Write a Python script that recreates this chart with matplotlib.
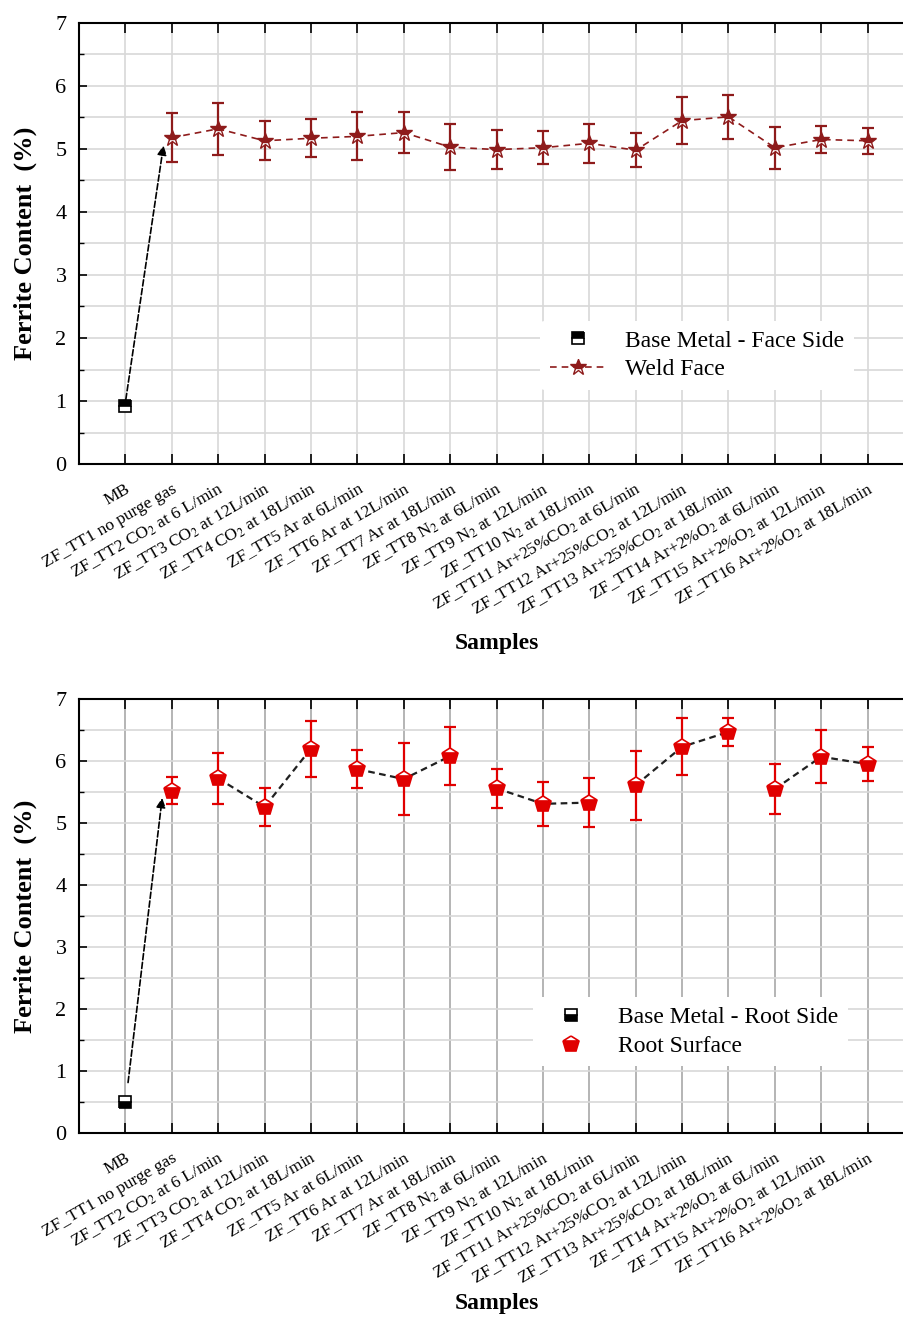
import numpy as np
import matplotlib.pyplot as plt
from matplotlib.ticker import MultipleLocator

plt.rcParams['font.family'] = ['Liberation Serif', 'DejaVu Serif']
plt.rcParams['mathtext.fontset'] = 'stix'

labels = ['MB', 'ZF_TT1 no purge gas',
          'ZF_TT2 CO$_2$ at 6 L/min', 'ZF_TT3 CO$_2$ at 12L/min', 'ZF_TT4 CO$_2$ at 18L/min',
          'ZF_TT5 Ar at 6L/min', 'ZF_TT6 Ar at 12L/min', 'ZF_TT7 Ar at 18L/min',
          'ZF_TT8 N$_2$ at 6L/min', 'ZF_TT9 N$_2$ at 12L/min', 'ZF_TT10 N$_2$ at 18L/min',
          'ZF_TT11 Ar+25%CO$_2$ at 6L/min', 'ZF_TT12 Ar+25%CO$_2$ at 12L/min',
          'ZF_TT13 Ar+25%CO$_2$ at 18L/min',
          'ZF_TT14 Ar+2%O$_2$ at 6L/min', 'ZF_TT15 Ar+2%O$_2$ at 12L/min',
          'ZF_TT16 Ar+2%O$_2$ at 18L/min']

# face side
mb_face = 0.92
weld_face = [5.18, 5.32, 5.13, 5.17, 5.20, 5.26, 5.03, 4.99, 5.02, 5.09, 4.98,
             5.45, 5.51, 5.02, 5.15, 5.13]
weld_face_err = [0.39, 0.41, 0.31, 0.30, 0.38, 0.33, 0.37, 0.31, 0.26, 0.31, 0.27,
                 0.37, 0.35, 0.33, 0.22, 0.21]

# root side
mb_root = 0.50
root = [5.52, 5.72, 5.26, 6.20, 5.87, 5.71, 6.08, 5.56, 5.31, 5.33, 5.61,
        6.23, 6.47, 5.55, 6.07, 5.95]
root_err = [0.22, 0.41, 0.30, 0.45, 0.31, 0.58, 0.47, 0.32, 0.36, 0.40, 0.56,
            0.46, 0.23, 0.41, 0.43, 0.27]

x = np.arange(1, 17)

fig = plt.figure(figsize=(9.04, 13.19), dpi=100)
ax1 = fig.add_axes([0.0874, 0.6482, 0.9237, 0.3344])
ax2 = fig.add_axes([0.0874, 0.1410, 0.9237, 0.3290])

dark_red = '#8e1b1b'
red = '#e00000'


def style(ax, vgrid, xpad):
    ax.set_xlim(-1, 17)
    ax.set_ylim(0, 7)
    ax.set_xticks(np.arange(0, 17))
    ax.set_xticklabels(labels, rotation=30, ha='right', va='top',
                       rotation_mode='anchor', fontsize=12.5)
    ax.yaxis.set_major_locator(MultipleLocator(1))
    ax.yaxis.set_minor_locator(MultipleLocator(0.5))
    ax.tick_params(axis='y', which='major', direction='in', length=6, width=1.2,
                   labelsize=16, pad=9)
    ax.tick_params(axis='y', which='minor', direction='in', length=3.5, width=1)
    ax.tick_params(axis='x', which='major', direction='in', length=7, width=1.2,
                   top=True, pad=12)
    ax.grid(True, axis='y', which='both', color='#d8d8d8', lw=1.2)
    ax.grid(True, axis='x', which='major', color=vgrid, lw=1.2)
    ax.set_axisbelow(True)
    for s in ax.spines.values():
        s.set_linewidth(1.5)
    ax.set_ylabel('Ferrite Content  (%)', fontsize=19, fontweight='bold', labelpad=13)
    ax.set_xlabel('Samples', fontsize=17, fontweight='bold', labelpad=xpad)


style(ax1, '#d8d8d8', 10)
style(ax2, '#a8a8a8', 4)

# top panel
ax1.plot([0], [mb_face], 's', ms=8, color='black', fillstyle='top',
         markerfacecoloralt='white', mec='black', mew=1.2,
         label='Base Metal - Face Side', zorder=4)
ax1.errorbar(x, weld_face, yerr=weld_face_err, fmt='none', ecolor=dark_red,
             capsize=4, elinewidth=1.6, capthick=1.6, zorder=3)
ax1.plot(x, weld_face, '--', color=dark_red, lw=1.2, dashes=(4, 3),
         marker='*', ms=12, mfc=dark_red, mec=dark_red, mew=1, fillstyle='top',
         markerfacecoloralt='white', label='Weld Face', zorder=4)
ax1.annotate('', xy=(0.83, 5.1), xytext=(0.0, 0.98),
             arrowprops=dict(arrowstyle='-|>', color='black', lw=1.2,
                             linestyle='--', mutation_scale=14))
ax1.legend(loc='center', bbox_to_anchor=(0.74, 0.247), fontsize=17,
           frameon=True, facecolor='white', edgecolor='none', framealpha=1,
           handlelength=2.4, handletextpad=0.8, labelspacing=0.3)

# bottom panel
ax2.plot([0], [mb_root], 's', ms=8, color='black', fillstyle='bottom',
         markerfacecoloralt='white', mec='black', mew=1.2,
         label='Base Metal - Root Side', zorder=4)
for g in range(5):
    idx = slice(1 + 3 * g, 4 + 3 * g)
    ax2.plot(x[idx], root[idx], '--', color='#202020', lw=1.6, dashes=(3, 2),
             zorder=2)
ax2.errorbar(x, root, yerr=root_err, fmt='none', ecolor=red, capsize=4,
             elinewidth=1.6, capthick=1.6, zorder=3)
ax2.plot(x, root, 'p', ms=12, mfc=red, mec=red, mew=1.2,
         fillstyle='bottom', markerfacecoloralt='white',
         label='Root Surface', zorder=4)
ax2.annotate('', xy=(0.8, 5.45), xytext=(0.05, 0.77),
             arrowprops=dict(arrowstyle='-|>', color='black', lw=1.2,
                             linestyle='--', mutation_scale=14))
ax2.legend(loc='center', bbox_to_anchor=(0.732, 0.233), fontsize=17,
           frameon=True, facecolor='white', edgecolor='none', framealpha=1,
           handlelength=2.4, handletextpad=0.8, labelspacing=0.3)

fig.savefig('out.png', dpi=100)
